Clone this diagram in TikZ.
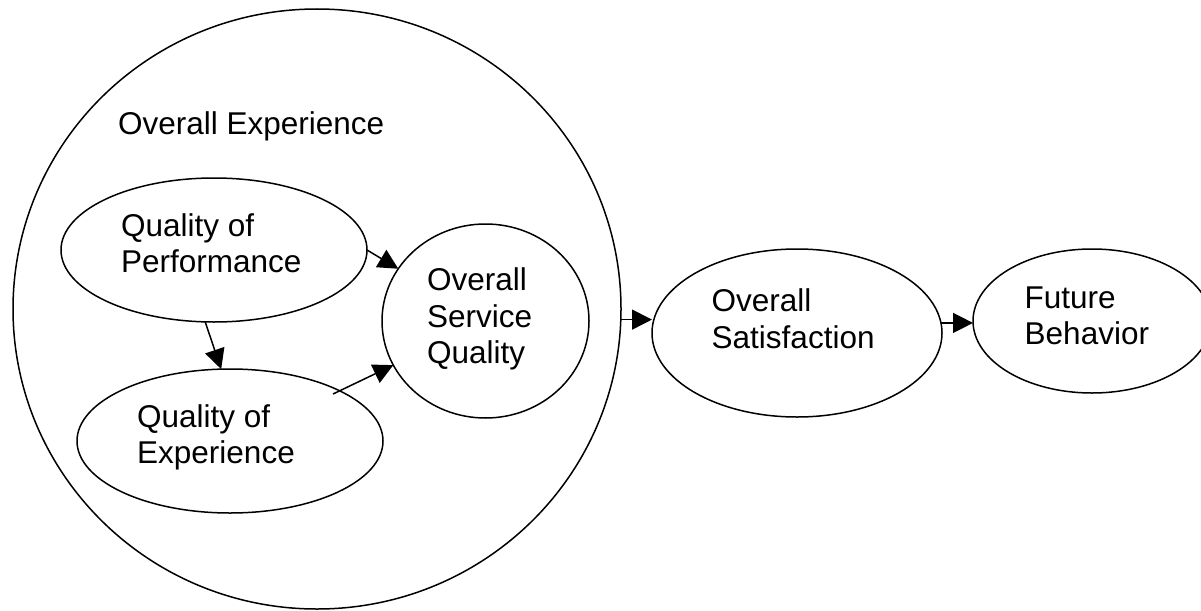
\documentclass[tikz,border=0pt]{standalone}
\usepackage{fontspec}
\setmainfont{Liberation Sans}
\usetikzlibrary{shapes.geometric,arrows.meta}
\begin{document}
\begin{tikzpicture}[x=1pt,y=-1pt,
  oval/.style={draw,ellipse,line width=1.5pt,inner sep=0pt,outer sep=0pt},
  txt/.style={anchor=base west,inner sep=0pt,font=\fontsize{31.5}{36.5}\selectfont},
  link/.style={line width=1.5pt,-{Triangle[length=20pt,width=20pt]}}]
\useasboundingbox (0,0) rectangle (1201,610);
\begin{scope}
\clip (0,0) rectangle (1201,610);
% shapes
\node[oval,minimum width=608pt,minimum height=600pt] (exp) at (317,309) {};
\node[oval,minimum width=306pt,minimum height=144pt] (qop) at (214,250) {};
\node[oval,minimum width=306pt,minimum height=144pt] (qoe) at (230,441) {};
\node[oval,minimum width=207pt,minimum height=194pt] (osq) at (485.5,321) {};
\node[oval,minimum width=290pt,minimum height=168pt] (sat) at (797,333) {};
\node[oval,minimum width=238pt,minimum height=144pt] (fut) at (1092,321) {};
% texts
\node[txt] (exptext) at (118,134) {Overall Experience};
\node[txt] (qoptext) at (121,236) {\vtop{\hbox{Quality of}\hbox{Performance}}};
\node[txt] (qoetext) at (137,427) {\vtop{\hbox{Quality of}\hbox{Experience}}};
\node[txt] (osqtext) at (427,290.5) {\vtop{\hbox{Overall}\hbox{Service}\hbox{Quality}}};
\node[txt] (sattext) at (711.5,311.7) {\vtop{\hbox{Overall}\hbox{Satisfaction}}};
\node[txt] (futtext) at (1024.5,308) {\vtop{\hbox{Future}\hbox{Behavior}}};
% connectors
\path (qoe.center) ++(103,-47) coordinate (qoeout);
\draw[link] (qop.east) -- (osq);
\draw[link] (qoeout) -- (osq);
\draw[link] (qop.263) -- (qoe.97);
\draw[link] (exp.-2.5) -- (exp.-2.5 -| sat.west);
\draw[link] (sat.4.4) -- (sat.4.4 -| fut.west);
\end{scope}
\end{tikzpicture}
\end{document}
